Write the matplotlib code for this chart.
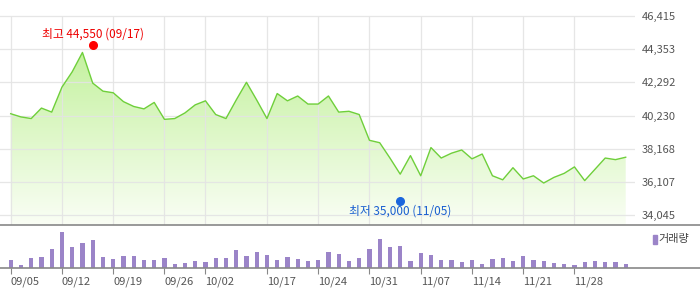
"""
plot.py - daily close (area) and volume (bars), two stacked panels.
"""
import numpy as np
import matplotlib
matplotlib.use("Agg")
import matplotlib.pyplot as plt
from matplotlib.colors import LinearSegmentedColormap
from matplotlib.patches import Rectangle

plt.rcParams["font.family"] = ["Noto Sans CJK KR", "DejaVu Sans"]

# trading days 2025-09-05 .. 2025-12-05 (61 sessions)
N_DAYS = 61
TICK_IDX = [0, 5, 10, 15, 19, 25, 30, 35, 40, 45, 50, 55]
TICK_LABELS = ["09/05", "09/12", "09/19", "09/26", "10/02", "10/17",
               "10/24", "10/31", "11/07", "11/14", "11/21", "11/28"]

CLOSE = [40350, 40150, 40050, 40700, 40450, 42000, 42950, 44150, 42250, 41750,
         41650, 41100, 40800, 40650, 41050, 40000, 40050, 40400, 40900, 41150,
         40300, 40050, 41200, 42300, 41200, 40050, 41600, 41150, 41450, 40950,
         40950, 41450, 40450, 40500, 40300, 38700, 38550, 37600, 36600, 37750,
         36500, 38250, 37600, 37900, 38100, 37550, 37850, 36500, 36250, 37000,
         36300, 36500, 36050, 36400, 36650, 37050, 36200, 36900, 37600, 37500,
         37650]

VOLUME = [25, 10, 31, 34, 58, 109, 64, 76, 85, 34,
          28, 37, 37, 25, 25, 31, 13, 16, 22, 19,
          31, 31, 55, 37, 49, 40, 25, 34, 28, 22,
          25, 49, 43, 22, 31, 58, 88, 64, 67, 22,
          46, 40, 25, 25, 19, 25, 13, 28, 31, 22,
          37, 25, 22, 16, 13, 10, 19, 22, 19, 19,
          13]

Y_TICKS = [34045, 36107, 38168, 40230, 42292, 44353, 46415]

HIGH_IDX, HIGH_VAL, HIGH_LABEL = 8, 44550, "최고 44,550 (09/17)"
LOW_IDX, LOW_VAL, LOW_LABEL = 38, 35000, "최저 35,000 (11/05)"

W, H = 700, 289
PX_PER_DAY = 10.25
X0 = -1.044          # index at left edge of figure
VAL_PER_PX = 61.86

fig = plt.figure(figsize=(W / 100, H / 100), dpi=100)

# ---- price panel ----
main_top_px, main_bot_px, main_right_px = 4, 225, 635
ax = fig.add_axes([0, 1 - main_bot_px / H, main_right_px / W,
                   (main_bot_px - main_top_px) / H])
ax.set_xlim(X0, X0 + main_right_px / PX_PER_DAY)
y_top = 46415 + (16 - main_top_px) * VAL_PER_PX
y_bot = 34045 - (main_bot_px - 215.3) * VAL_PER_PX
ax.set_ylim(y_bot, y_top)

x = np.arange(N_DAYS)
close = np.array(CLOSE)

# gradient fill clipped to the area under the line
cmap = LinearSegmentedColormap.from_list("g", ["#fafef5", "#b6ee88"])
grad = np.linspace(0, 1, 256).reshape(-1, 1)
im = ax.imshow(grad, cmap=cmap, origin="lower", aspect="auto",
               extent=[X0, X0 + main_right_px / PX_PER_DAY, y_bot, y_top],
               zorder=1)
poly = ax.fill_between(x, close, y_bot, color="none", lw=0)
im.set_clip_path(poly.get_paths()[0], transform=ax.transData)

ax.plot(x, close, color="#6fcf3b", lw=1.0, zorder=3)

ax.vlines(TICK_IDX, y_bot, Y_TICKS[-1], color="#e4e4e4", lw=0.9,
          zorder=2, alpha=0.9)
for v in Y_TICKS:
    ax.axhline(v, color="#e4e4e4", lw=0.9, zorder=2, alpha=0.9)

ax.set_yticks(Y_TICKS)
ax.set_yticklabels([f"{v:,}" for v in Y_TICKS])
ax.yaxis.tick_right()
ax.tick_params(axis="y", length=0, pad=5, labelsize=8, labelcolor="#555555")
ax.set_xticks([])
for s in ax.spines.values():
    s.set_visible(False)

ax.plot(HIGH_IDX, HIGH_VAL + 45, "o", color="#ff0000", ms=5.5, zorder=4,
        clip_on=False)
ax.text(HIGH_IDX, HIGH_VAL + 45 + 11 * VAL_PER_PX, HIGH_LABEL, color="#ee0000",
        fontsize=8.5, ha="center", va="center")
ax.plot(LOW_IDX, LOW_VAL - 45, "o", color="#1a66dd", ms=5.5, zorder=4)
ax.text(LOW_IDX, LOW_VAL - 45 - 10 * VAL_PER_PX, LOW_LABEL, color="#1a5fd0",
        fontsize=8.5, ha="center", va="center")

# ---- volume panel ----
vol_top_px, vol_bot_px = 225, 268.3
axv = fig.add_axes([0, 1 - vol_bot_px / H, 1, (vol_bot_px - vol_top_px) / H])
axv.set_xlim(X0, X0 + W / PX_PER_DAY)
axv.set_ylim(0, (vol_bot_px - vol_top_px) * 3)
axv.bar(x, VOLUME, width=0.42, color="#9b84c8", zorder=2)

axv.set_xticks(TICK_IDX)
axv.set_xticklabels(TICK_LABELS, ha="left")
axv.tick_params(axis="x", length=4, width=0.8, color="#888888", pad=2,
                labelsize=8, labelcolor="#555555")
axv.set_yticks([])
for side in ("left", "right"):
    axv.spines[side].set_visible(False)
for side in ("top", "bottom"):
    axv.spines[side].set_color("#888888")
    axv.spines[side].set_linewidth(1.2)

# legend
axv.add_patch(Rectangle((653 / W, 0.55), 3.5 / W, 0.23,
                        transform=axv.transAxes, color="#9b84c8",
                        clip_on=False))
axv.text(658 / W, 0.67, "거래량", transform=axv.transAxes, fontsize=8,
         color="#444444", ha="left", va="center")

fig.savefig("out.png", dpi=100)
